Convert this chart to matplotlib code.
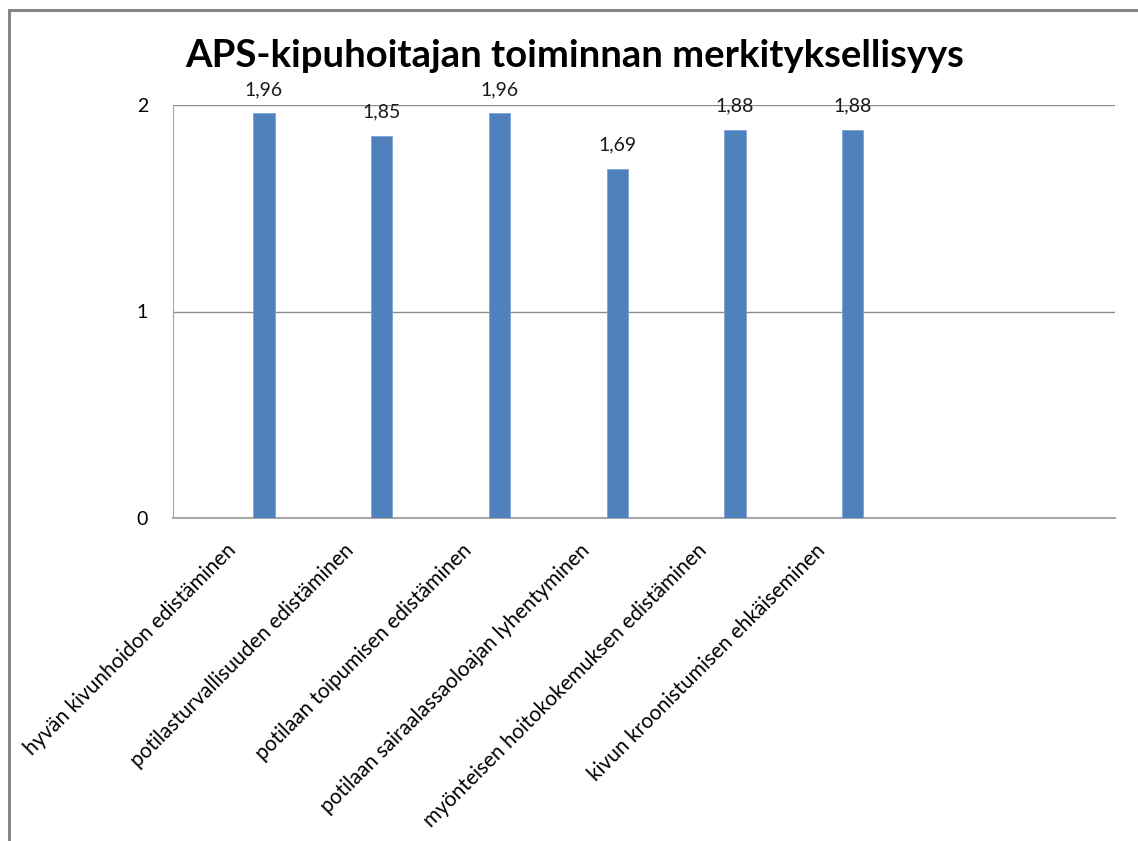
import matplotlib.pyplot as plt
from matplotlib.patches import Rectangle
from matplotlib.transforms import ScaledTranslation

# data
categories = ["hyvän kivunhoidon edistäminen",
              "potilasturvallisuuden edistäminen",
              "potilaan toipumisen edistäminen",
              "potilaan sairaalassaoloajan lyhentyminen",
              "myönteisen hoitokokemuksen edistäminen",
              "kivun kroonistumisen ehkäiseminen"]
values = [1.96, 1.85, 1.96, 1.69, 1.88, 1.88]
value_labels = ["1,96", "1,85", "1,96", "1,69", "1,88", "1,88"]
yticks = [0, 1, 2]

plt.rcParams['font.family'] = ['Lato', 'DejaVu Sans']

W, H, DPI = 1138, 841, 100
fig = plt.figure(figsize=(W / DPI, H / DPI), dpi=DPI)
# axes box in pixels: left 173, right 1115, top 105, bottom 518
ax = fig.add_axes([173 / W, 1 - 518 / H, (1115 - 173) / W, (518 - 105) / H])

n_slots = 8  # excel category count (last two empty)
bw = 0.182
off = 1.5 * bw
xs = [i + off for i in range(len(values))]
ax.bar(xs, values, width=bw, color='#4F81BD', edgecolor='#7DA2D4', linewidth=0.6, zorder=3)

for x, v, lab in zip(xs, values, value_labels):
    ax.annotate(lab, (x, v), xytext=(0, 11), textcoords='offset points',
                ha='center', va='bottom', fontsize=14, color='#1a1a1a')

ax.set_xlim(-0.5, n_slots - 0.5)
ax.set_ylim(0, 2)
ax.set_yticks(yticks)
ax.set_yticklabels([str(t) for t in yticks], fontsize=14)
ax.set_xticks(range(len(categories)))
ax.set_xticklabels(categories, rotation=45, ha='right', rotation_mode='anchor', fontsize=15)
ax.tick_params(axis='x', length=0, pad=16)
ax.tick_params(axis='y', length=0, pad=18)
# nudge category labels a little to the left
shift = ScaledTranslation(-0.06, 0, fig.dpi_scale_trans)
for t in ax.get_xticklabels():
    t.set_transform(t.get_transform() + shift)

ax.grid(axis='y', color='#8c8c8c', linewidth=1.0, zorder=0)
ax.set_axisbelow(True)
for s in ['top', 'right']:
    ax.spines[s].set_visible(False)
ax.spines['left'].set_color('#a6a6a6')
ax.spines['bottom'].set_color('#a6a6a6')
ax.spines['bottom'].set_linewidth(1.5)

fig.text(575 / W, 1 - 56 / H, "APS-kipuhoitajan toiminnan merkityksellisyys",
         ha='center', va='center', fontsize=27.5, fontweight='bold')

# outer chart border (cut off at right and bottom)
fig.patches.append(Rectangle((9 / W, -0.1), 1.2, 1 - 10 / H + 0.1, transform=fig.transFigure,
                             fill=False, edgecolor='#878787', linewidth=2.2))

fig.savefig("out.png", dpi=DPI)
